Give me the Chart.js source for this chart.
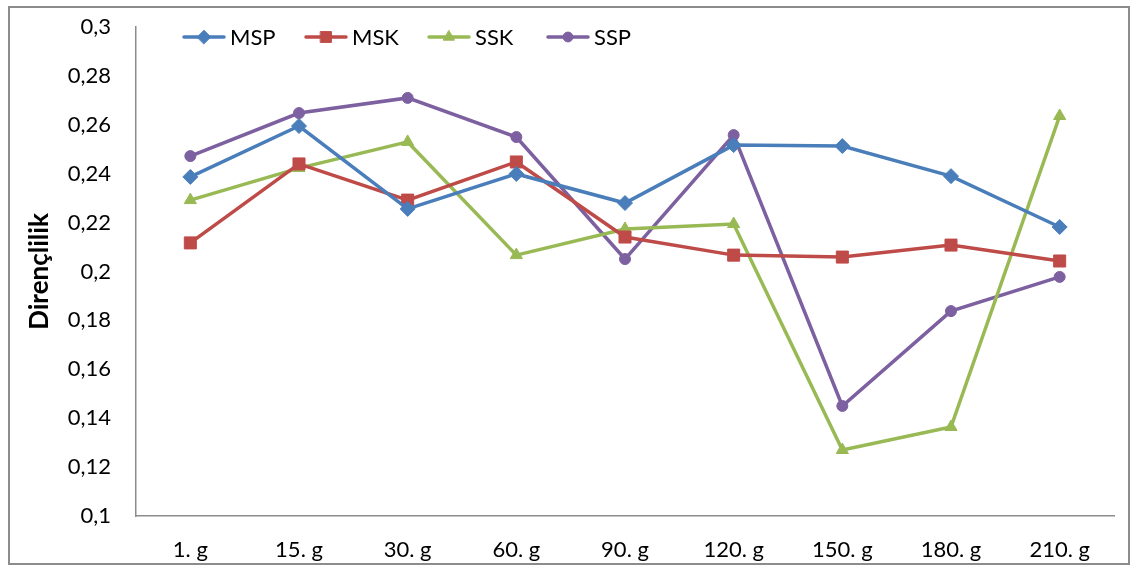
<!DOCTYPE html>
<html>
<head>
<meta charset="utf-8">
<script src="https://cdn.jsdelivr.net/npm/chart.js@4.4.1/dist/chart.umd.min.js"></script>
<style>
    html, body { margin: 0; padding: 0; background: #fff; }
    #wrap { position: relative; width: 1137px; height: 566px; }
    #frame { position: absolute; left: 8px; top: 6px; width: 1118px; height: 555px; border: 2px solid #8c8c8c; pointer-events: none; }
    #legend { position: absolute; left: 0; top: 0; font-family: Lato, "Open Sans", sans-serif; font-size: 22px; color: #000; }
    .lg-item { position: absolute; top: 23px; display: flex; align-items: center; white-space: nowrap; }
    .lg-item canvas { margin-right: 4px; }
</style>
</head>
<body>
<div id="wrap">
    <canvas id="chart" width="1137" height="566"></canvas>
    <div id="frame"></div>
    <div id="legend"></div>
</div>
<script>
const categories = ['1. g', '15. g', '30. g', '60. g', '90. g', '120. g', '150. g', '180. g', '210. g'];
const seriesNames = ['MSP', 'MSK', 'SSK', 'SSP'];
const mspValues = [0.2387, 0.2595, 0.2256, 0.2399, 0.2280, 0.2517, 0.2513, 0.2390, 0.2182];
const mskValues = [0.2117, 0.2440, 0.2292, 0.2448, 0.2141, 0.2067, 0.2059, 0.2108, 0.2043];
const sskValues = [0.2292, 0.2423, 0.2530, 0.2067, 0.2174, 0.2194, 0.1270, 0.1364, 0.2636];
const sspValues = [0.2472, 0.2648, 0.2710, 0.2550, 0.2051, 0.2558, 0.1450, 0.1838, 0.1978];
const yTicks = [0.1, 0.12, 0.14, 0.16, 0.18, 0.2, 0.22, 0.24, 0.26, 0.28, 0.3];

const colors = ['#4a7ebb', '#be4b48', '#98b954', '#7d60a0'];
const markers = ['rectRot', 'rect', 'triangle', 'circle'];
const markerSizes = [7.5, 8.5, 7, 5.5];
const legendX = [182, 304, 427, 546];

const fontFamily = 'Lato, "Open Sans", sans-serif';

function fmt(v) {
    return Number(v.toFixed(2)).toString().replace('.', ',');
}

const allValues = [mspValues, mskValues, sskValues, sspValues];
const datasets = seriesNames.map((name, i) => ({
    label: name,
    data: allValues[i],
    borderColor: colors[i],
    backgroundColor: colors[i],
    borderWidth: 3.5,
    pointBorderWidth: 1,
    pointStyle: markers[i],
    pointRadius: markerSizes[i],
    pointHoverRadius: markerSizes[i],
    tension: 0
}));

const ctx = document.getElementById('chart').getContext('2d');
const chart = new Chart(ctx, {
    type: 'line',
    data: { labels: categories, datasets: datasets },
    options: {
        responsive: false,
        animation: false,
        layout: { padding: { top: 27, right: 23, left: 0, bottom: 0 } },
        plugins: { legend: { display: false }, tooltip: { enabled: false } },
        scales: {
            x: {
                offset: true,
                grid: { display: false, drawTicks: false },
                border: { color: '#8c8c8c', width: 1.5 },
                ticks: { color: '#000', font: { family: fontFamily, size: 22 }, padding: 21, maxRotation: 0 },
                afterFit: (scale) => { scale.height = 50; scale.paddingLeft = 0; scale.paddingRight = 0; }
            },
            y: {
                min: 0.1,
                max: 0.3,
                afterBuildTicks: (scale) => { scale.ticks = yTicks.map(v => ({ value: v })); },
                grid: { display: false, drawTicks: false },
                border: { color: '#8c8c8c', width: 1.5 },
                ticks: { color: '#000', font: { family: fontFamily, size: 22 }, padding: 25, callback: (v) => fmt(v) },
                title: { display: true, text: 'Dirençlilik', color: '#000', font: { family: fontFamily, size: 26, weight: 'bold' }, padding: { top: 24, bottom: 0 } },
                afterFit: (scale) => { scale.width = 136; scale.paddingTop = 0; scale.paddingBottom = 0; }
            }
        }
    }
});

// legend: line + marker like the office style
const legendEl = document.getElementById('legend');
seriesNames.forEach((name, i) => {
    const item = document.createElement('div');
    item.className = 'lg-item';
    item.style.left = legendX[i] + 'px';
    const c = document.createElement('canvas');
    c.width = 44; c.height = 24;
    const g = c.getContext('2d');
    g.strokeStyle = colors[i];
    g.lineWidth = 3.5;
    g.lineCap = 'round';
    g.beginPath(); g.moveTo(2, 12); g.lineTo(42, 12); g.stroke();
    g.fillStyle = colors[i];
    g.strokeStyle = colors[i];
    g.lineWidth = 1;
    Chart.helpers.drawPoint(g, { pointStyle: markers[i], radius: markerSizes[i] * 0.9, borderWidth: 1 }, 22, 12);
    item.appendChild(c);
    const t = document.createElement('span');
    t.textContent = name;
    item.appendChild(t);
    legendEl.appendChild(item);
});
</script>
</body>
</html>
